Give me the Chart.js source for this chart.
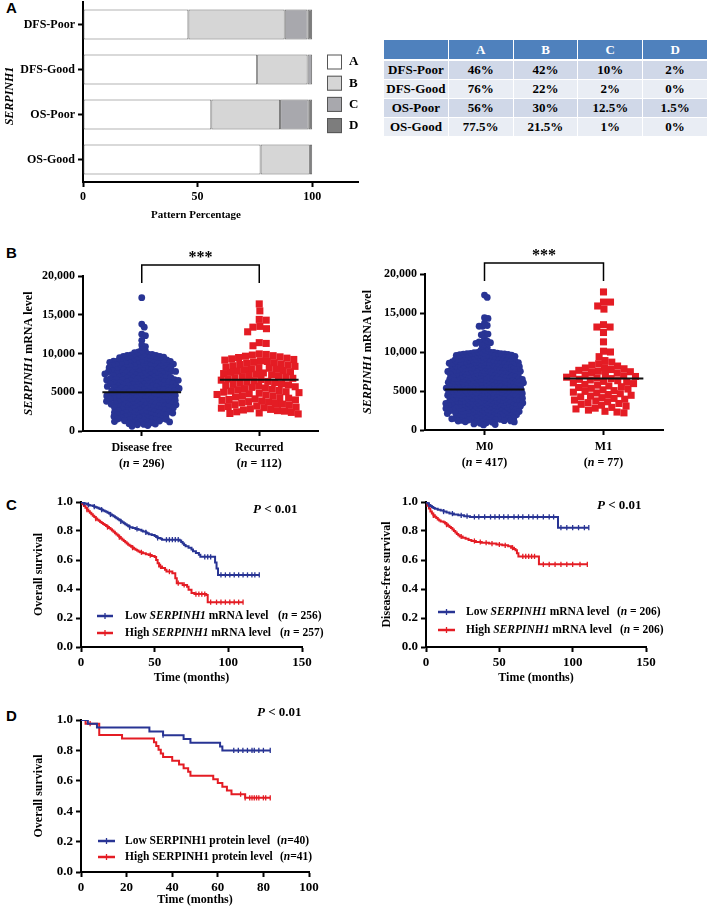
<!DOCTYPE html>
<html>
<head>
<meta charset="utf-8">
<script src="https://cdn.jsdelivr.net/npm/chart.js@4"></script>
<style>
  body { margin: 0; background: #fff; width: 709px; height: 907px; position: relative; overflow: hidden; }
  canvas { position: absolute; }
  .lab { position: absolute; font: bold 15px "Liberation Sans", Arial, sans-serif; line-height: 15px; }
  table { position: absolute; left: 383px; top: 39px; width: 325px; border-collapse: collapse; table-layout: fixed;
          font: bold 13px "Liberation Serif", serif; text-align: center; }
  th, td { border: 1px solid #fff; height: 18px; padding: 0; }
  th { background: #4f81bd; color: #fff; height: 19px; border-bottom: 2px solid #fff; }
  tr:nth-child(even) td { background: #d0d8e8; }
  tr:nth-child(odd) td { background: #e9edf4; }
</style>
</head>
<body>
<div class="lab" style="left:6px;top:0px">A</div>
<div class="lab" style="left:6px;top:245px">B</div>
<div class="lab" style="left:6px;top:497px">C</div>
<div class="lab" style="left:6px;top:708px">D</div>
<script>
// ---- panel A: pattern percentages
const groupsA = ['DFS-Poor', 'DFS-Good', 'OS-Poor', 'OS-Good'];
const patternNames = ['A', 'B', 'C', 'D'];
const patA = [46, 76, 56, 77.5];
const patB = [42, 22, 30, 21.5];
const patC = [10, 2, 12.5, 1];
const patD = [2, 0, 1.5, 0];

// ---- panel B: SERPINH1 mRNA level per patient
const dfValues = [17200,13800,13400,12500,12300,11700,11100,10900,10500,10300,10200,10100,
  9980,9910,9870,9820,9760,9740,9690,9630,9610,9570,9520,9480,9460,9410,9350,9330,9290,9240,9210,9170,9140,9090,9060,9040,9010,9000,
  8970,8930,8910,8860,8840,8800,8770,8750,8700,8680,8640,8610,8590,8550,8520,8480,8460,8420,8390,8350,8330,8290,8260,8230,8190,8160,8120,8090,8050,8020,
  7980,7950,7920,7890,7870,7840,7810,7780,7740,7720,7690,7660,7630,7600,7570,7540,7510,7480,7450,7420,7390,7360,7330,7300,7270,7240,7210,7180,7150,7110,7070,7030,
  6990,6960,6940,6910,6880,6850,6820,6800,6770,6740,6710,6680,6650,6620,6590,6560,6540,6510,6480,6450,6420,6390,6360,6330,6300,6270,6240,6210,6180,6150,6110,6070,6030,
  5990,5960,5940,5910,5890,5860,5830,5800,5780,5750,5720,5690,5660,5640,5610,5580,5550,5520,5490,5460,5430,5400,5370,5340,5310,5280,5250,5220,5190,5160,5130,5100,5060,5020,
  4990,4960,4930,4900,4880,4850,4820,4790,4760,4730,4700,4670,4640,4610,4580,4550,4520,4490,4460,4430,4400,4370,4340,4310,4280,4250,4220,4190,4160,4130,4100,4070,4040,4010,
  3980,3950,3920,3890,3860,3830,3800,3770,3740,3710,3680,3650,3620,3590,3560,3530,3500,3470,3440,3410,3380,3350,3320,3290,3260,3230,3200,3170,3140,3110,3080,3050,3020,
  2980,2950,2910,2880,2850,2810,2780,2750,2710,2680,2640,2610,2580,2540,2510,2480,2440,2410,2370,2340,2310,2270,2240,2200,2170,2140,2100,2070,2040,2010,
  1980,1940,1900,1870,1830,1790,1760,1720,1680,1650,1610,1570,1540,1500,1460,1430,1390,1350,1320,1280,1240,1210,1170,1130,1090,1040,
  950,900,850,800,700,600];
const recValues = [16400,15500,14400,14300,13500,13400,13200,12800,11400,11300,11000,
  9950,9880,9800,9720,9650,9570,9480,9400,9310,9230,9150,9060,
  8970,8890,8820,8740,8660,8580,8500,8420,8340,8260,8180,8100,8030,
  7960,7880,7800,7730,7650,7570,7490,7410,7330,7250,7170,7090,7020,
  6950,6880,6800,6720,6640,6560,6480,6400,6320,6240,6160,6080,6010,
  5950,5870,5790,5710,5630,5550,5470,5390,5310,5230,5150,5070,5010,
  4950,4870,4790,4710,4630,4550,4470,4390,4310,4230,4150,4070,4010,
  3950,3870,3790,3710,3630,3550,3470,3390,3310,3230,3150,3070,3010,
  2950,2870,2790,2710,2630,2560,2480,2400,2330,2260,2200];
const m0Values = [17300,17000,14400,14300,13700,13400,13300,13300,12400,12300,12200,11700,11400,11300,11300,11200,11100,11000,10800,10600,10400,10200,10100,
  9990,9960,9940,9910,9880,9860,9830,9800,9780,9750,9730,9700,9670,9650,9620,9590,9570,9540,9520,9490,9460,9440,9410,9380,9360,9330,9310,9280,9250,9230,9200,9170,9150,9120,9100,9070,9040,9010,
  8990,8970,8940,8920,8900,8870,8850,8830,8800,8780,8760,8730,8710,8690,8660,8640,8620,8590,8570,8550,8520,8500,8470,8450,8430,8400,8380,8360,8330,8310,8290,8260,8240,8220,8190,8170,8150,8120,8100,8070,8050,8020,
  7990,7970,7950,7920,7900,7880,7860,7830,7810,7790,7770,7740,7720,7700,7680,7650,7630,7610,7590,7560,7540,7520,7500,7470,7450,7430,7410,7380,7360,7340,7320,7290,7270,7250,7230,7200,7180,7160,7140,7110,7090,7070,7040,7020,
  6990,6970,6950,6930,6900,6880,6860,6840,6820,6790,6770,6750,6730,6710,6680,6660,6640,6620,6600,6570,6550,6530,6510,6490,6460,6440,6420,6400,6380,6350,6330,6310,6290,6270,6240,6220,6200,6180,6160,6130,6110,6090,6070,6050,6020,
  5990,5970,5950,5930,5910,5880,5860,5840,5820,5800,5780,5760,5730,5710,5690,5670,5650,5630,5610,5580,5560,5540,5520,5500,5480,5460,5430,5410,5390,5370,5350,5330,5310,5280,5260,5240,5220,5200,5180,5160,5130,5110,5090,5070,5050,5020,
  4990,4970,4950,4930,4910,4880,4860,4840,4820,4800,4780,4760,4730,4710,4690,4670,4650,4630,4610,4580,4560,4540,4520,4500,4480,4460,4430,4410,4390,4370,4350,4330,4310,4280,4260,4240,4220,4200,4180,4160,4130,4110,4090,4070,4050,4020,
  3990,3970,3950,3930,3910,3880,3860,3840,3820,3800,3780,3760,3730,3710,3690,3670,3650,3630,3610,3580,3560,3540,3520,3500,3480,3460,3430,3410,3390,3370,3350,3330,3310,3280,3260,3240,3220,3200,3180,3160,3130,3110,3090,3070,3050,3020,
  2990,2970,2950,2920,2900,2880,2860,2830,2810,2790,2770,2740,2720,2700,2680,2650,2630,2610,2590,2560,2540,2520,2500,2470,2450,2430,2410,2380,2360,2340,2320,2290,2270,2250,2230,2200,2180,2160,2140,2110,2090,2070,2040,2020,
  1990,1960,1940,1910,1880,1860,1830,1800,1780,1750,1720,1700,1670,1640,1620,1590,1560,1540,1510,1480,1460,1430,1400,1380,1350,1320,1300,1270,1240,1220,1190,1160,1140,1110,1080,1060,1030,
  980,920,860,780,700,650];
const m1Values = [17700,16400,16400,15900,15500,13500,13200,13200,12500,11300,10100,10000,9400,
  8900,8700,8500,8300,8200,8000,
  7950,7850,7750,7650,7560,7470,7380,7290,7200,7110,7020,
  6950,6860,6770,6680,6590,6500,6410,6320,6230,6140,6050,
  5950,5850,5750,5650,5550,5450,5350,5250,5150,5050,
  4950,4850,4750,4650,4550,4450,4350,4250,4150,4050,
  3950,3840,3730,3620,3510,3400,3290,3180,3070,
  2900,2800,2700,2550,2400,2300,2200];
const recurMeans = [5000, 6600];
const metaMeans = [5200, 6600];
const recurLabels = [['Disease free', '296'], ['Recurred', '112']];
const metaLabels = [['M0', '417'], ['M1', '77']];

// ---- panel C/D: Kaplan-Meier steps (time in months, survival)
const osLowT  = [0,1,2,3,4,5,6,8,9,10,11,12,13,14,15,16,17,18,19,20,21,22,23,24,25,26,27,28,29,30,31,32,33,35,37,39,41,42,44,45,46,48,50,51,52,54,55,67,68,69,70,71,73,75,76,78,80,81,91,92,93,121];
const osLowS  = [1,0.996,0.992,0.988,0.984,0.98,0.976,0.972,0.968,0.964,0.96,0.956,0.952,0.947,0.942,0.937,0.932,0.926,0.92,0.914,0.908,0.902,0.895,0.888,0.881,0.874,0.867,0.86,0.853,0.846,0.839,0.832,0.826,0.82,0.814,0.808,0.802,0.796,0.79,0.784,0.778,0.772,0.765,0.758,0.752,0.746,0.74,0.734,0.724,0.714,0.704,0.694,0.684,0.672,0.66,0.648,0.636,0.622,0.582,0.542,0.497,0.497];
const osHighT = [0,1,2,3,4,5,6,7,8,9,10,11,12,13,14,15,16,17,18,19,20,21,22,23,24,25,26,27,28,29,30,31,32,33,34,35,36,37,38,39,40,42,44,46,48,50,51,52,53,55,57,58,62,64,65,69,72,73,75,77,85,86,110];
const osHighS = [1,0.985,0.972,0.96,0.948,0.936,0.926,0.916,0.906,0.896,0.886,0.878,0.87,0.862,0.855,0.848,0.841,0.834,0.827,0.82,0.812,0.803,0.794,0.785,0.776,0.767,0.758,0.749,0.74,0.731,0.722,0.714,0.706,0.699,0.692,0.685,0.678,0.671,0.665,0.659,0.653,0.646,0.64,0.634,0.628,0.621,0.6,0.578,0.556,0.545,0.532,0.52,0.508,0.475,0.44,0.428,0.416,0.395,0.372,0.365,0.358,0.309,0.309];
const osLowCens  = [2,5,9,14,20,27,33,38,44,52,58,60,62,64,66,84,86,88,95,98,101,104,107,110,113,116,118,121];
const osHighCens = [4,10,18,26,35,41,47,54,60,66,70,78,80,82,84,88,92,95,98,101,104,107,110];

const dfsLowT  = [0,1,2,3,4,5,6,8,10,12,14,16,19,22,26,30,90,111];
const dfsLowS  = [1,0.99,0.98,0.972,0.965,0.959,0.953,0.947,0.941,0.934,0.927,0.92,0.914,0.908,0.902,0.897,0.823,0.823];
const dfsHighT = [0,1,2,3,4,5,6,7,8,9,10,12,13,14,15,16,17,18,19,20,21,22,23,25,27,29,31,34,38,43,48,52,56,58,60,61,62,63,77,110];
const dfsHighS = [1,0.975,0.955,0.935,0.92,0.908,0.898,0.889,0.88,0.872,0.866,0.86,0.852,0.844,0.836,0.828,0.82,0.81,0.8,0.79,0.78,0.771,0.762,0.754,0.746,0.738,0.731,0.724,0.719,0.713,0.707,0.701,0.694,0.685,0.676,0.667,0.646,0.625,0.57,0.57];
const dfsLowCens  = [2,12,18,24,28,33,36,40,44,47,50,53,56,60,63,66,70,73,76,80,84,87,92,96,100,104,108,111];
const dfsHighCens = [5,14,24,33,37,41,45,50,54,59,66,68,70,72,74,80,84,88,92,96,100,105,110];

const protLowT  = [0,3,7,30,36,45,48,61,62,83];
const protLowS  = [1,0.975,0.95,0.925,0.9,0.875,0.85,0.825,0.8,0.8];
const protHighT = [0,2,8,18,32,33,34,35,36,40,43,45,47,48,58,60,62,64,66,72,83];
const protHighS = [1,0.976,0.902,0.878,0.854,0.829,0.805,0.78,0.756,0.732,0.707,0.683,0.659,0.634,0.61,0.585,0.561,0.537,0.512,0.488,0.488];
const protLowCens  = [36,67,69,71,73,75,76,78,80,83];
const protHighCens = [4,70,72,74,75,76,77,78,80,81,83];

// ---- styling
const SERIF = '"Liberation Serif", "Times New Roman", serif';
const BLUE = 'rgb(40,52,148)';
const RED = 'rgb(228,28,36)';
const patColors = ['#ffffff', '#d6d6d6', '#a8a8ad', '#7d7d7d'];

Chart.defaults.font.family = SERIF;
Chart.defaults.font.weight = 'bold';
Chart.defaults.color = '#000';
Chart.defaults.animation = false;
Chart.defaults.plugins.legend.display = false;
Chart.defaults.plugins.tooltip.enabled = false;

function font(size, italic) {
  return (italic ? 'italic ' : '') + 'bold ' + size + 'px ' + SERIF;
}

// text made of plain and italic pieces
function rich(ctx, parts, x, y, size, align) {
  ctx.save();
  ctx.textBaseline = 'middle';
  ctx.textAlign = 'left';
  ctx.fillStyle = '#000';
  let w = 0;
  parts.forEach(p => { ctx.font = font(size, p[1]); w += ctx.measureText(p[0]).width; });
  let cx = align === 'center' ? x - w / 2 : align === 'right' ? x - w : x;
  parts.forEach(p => {
    ctx.font = font(size, p[1]);
    ctx.fillText(p[0], cx, y);
    cx += ctx.measureText(p[0]).width;
  });
  ctx.restore();
}

function richV(ctx, parts, x, y, size) {
  ctx.save();
  ctx.translate(x, y);
  ctx.rotate(-Math.PI / 2);
  rich(ctx, parts, 0, 0, size, 'center');
  ctx.restore();
}

function makeCanvas(box) {
  const c = document.createElement('canvas');
  c.width = box.w;
  c.height = box.h;
  c.style.left = box.left + 'px';
  c.style.top = box.top + 'px';
  document.body.appendChild(c);
  return c;
}

function pad(box, area) {
  return { left: 0, top: area.t - box.top, right: box.left + box.w - area.r, bottom: 0 };
}

function scaleOpts(isY, fixed, tickSize, more) {
  const ticks = Object.assign({ color: '#000', padding: 3, font: { family: SERIF, weight: 'bold', size: tickSize } }, more.ticks || {});
  return Object.assign({
    border: { display: true, color: '#000', width: 2 },
    grid: { display: true, drawOnChartArea: false, drawTicks: true, tickLength: 5, tickWidth: 2, tickColor: '#000', offset: false },
    afterFit: s => { if (isY) s.width = fixed; else s.height = fixed; }
  }, more, { ticks: ticks });
}

// ================= Panel A =================
(function () {
  const box = { left: 0, top: -10, w: 370, h: 235 };
  const area = { l: 83, t: 2, r: 358, b: 182 };
  const cv = makeCanvas(box);
  const values = [patA, patB, patC, patD];
  new Chart(cv, {
    type: 'bar',
    data: {
      labels: groupsA,
      datasets: patternNames.map((n, i) => ({
        label: n,
        data: values[i],
        backgroundColor: patColors[i],
        borderColor: '#6a6a6a',
        borderWidth: 1,
        borderSkipped: false,
        barPercentage: 0.67,
        categoryPercentage: 1
      }))
    },
    options: {
      responsive: false,
      indexAxis: 'y',
      layout: { padding: pad(box, area) },
      scales: {
        x: scaleOpts(false, box.top + box.h - area.b, 12, { stacked: true, min: 0, max: 120, ticks: { stepSize: 50, includeBounds: false } }),
        y: scaleOpts(true, area.l - box.left, 12, { stacked: true })
      }
    },
    plugins: [{
      id: 'decoA',
      afterDraw(ch) {
        const ctx = ch.ctx;
        rich(ctx, [['Pattern Percentage', false]], 196, 225, 11, 'center');
        richV(ctx, [['SERPINH1', true]], 10, 106, 12);
        ch.data.datasets.forEach((ds, i) => {
          const y = 72 + i * 21.2;
          ctx.save();
          ctx.fillStyle = ds.backgroundColor;
          ctx.fillRect(327, y - 7.5, 15, 15);
          ctx.strokeStyle = '#555';
          ctx.lineWidth = 1;
          ctx.strokeRect(327.5, y - 7, 14, 14);
          ctx.restore();
          rich(ctx, [[ds.label, false]], 349, y, 13, 'left');
        });
      }
    }]
  });
})();

// table of panel A
(function () {
  const tbl = document.createElement('table');
  const cols = [patA, patB, patC, patD];
  let html = '<tr><th></th>' + patternNames.map(n => '<th>' + n + '</th>').join('') + '</tr>';
  groupsA.forEach((g, i) => {
    html += '<tr><td>' + g + '</td>' + cols.map(c => '<td>' + c[i] + '%</td>').join('') + '</tr>';
  });
  tbl.innerHTML = html;
  document.body.appendChild(tbl);
})();

// ================= Panel B =================
function swarm(values, cat, ch, d) {
  const xs = ch.scales.x, ys = ch.scales.y;
  const cx = xs.getPixelForValue(cat);
  const pts = values.map(v => ({ v: v, py: ys.getPixelForValue(v), ox: 0 }));
  pts.sort((a, b) => a.py - b.py);
  const placed = [];
  pts.forEach(p => {
    const near = placed.filter(q => Math.abs(q.py - p.py) < d);
    const cands = [0];
    near.forEach(q => {
      const dx = Math.sqrt(d * d - (q.py - p.py) ** 2);
      cands.push(q.ox + dx, q.ox - dx);
    });
    cands.sort((a, b) => Math.abs(a) - Math.abs(b));
    for (const c of cands) {
      if (near.every(q => (q.ox - c) ** 2 + (q.py - p.py) ** 2 >= d * d - 0.01)) { p.ox = c; break; }
    }
    placed.push(p);
  });
  return placed.map(p => ({ x: xs.getValueForPixel(cx + p.ox), y: p.v }));
}

function dotPlot(box, area, groups, means, labels, spacing) {
  const cv = makeCanvas(box);
  const half = 0.67;
  const ch = new Chart(cv, {
    type: 'scatter',
    data: {
      datasets: [
        { type: 'line', data: [{ x: 1 - half, y: means[0] }, { x: 1 + half, y: means[0] }], showLine: true, borderColor: '#111', borderWidth: 2, pointRadius: 0 },
        { type: 'line', data: [{ x: 3 - half, y: means[1] }, { x: 3 + half, y: means[1] }], showLine: true, borderColor: '#111', borderWidth: 2, pointRadius: 0 },
        { data: [], pointStyle: 'circle', pointRadius: 3.4, backgroundColor: BLUE, pointBackgroundColor: BLUE, pointBorderWidth: 0, borderWidth: 0 },
        { data: [], pointStyle: 'rect', pointRadius: 5, backgroundColor: RED, pointBackgroundColor: RED, pointBorderWidth: 0, borderWidth: 0 }
      ]
    },
    options: {
      responsive: false,
      layout: { padding: pad(box, area) },
      scales: {
        x: scaleOpts(false, box.top + box.h - area.b, 12, {
          type: 'linear', min: 0, max: 4,
          afterBuildTicks: s => { s.ticks = [{ value: 1 }, { value: 3 }]; },
          ticks: { callback: () => '' }
        }),
        y: scaleOpts(true, area.l - box.left, 12, {
          min: 0, max: 20000,
          ticks: { stepSize: 5000, callback: v => v >= 10000 ? v.toLocaleString('en-US') : String(v) }
        })
      }
    },
    plugins: [{
      id: 'decoB',
      afterDraw(c) {
        const ctx = c.ctx, a = c.chartArea, xs = c.scales.x;
        const x1 = xs.getPixelForValue(1), x3 = xs.getPixelForValue(3);
        ctx.save();
        ctx.strokeStyle = '#000';
        ctx.lineWidth = 1.5;
        ctx.beginPath();
        ctx.moveTo(x1, a.top + 7);
        ctx.lineTo(x1, a.top - 11);
        ctx.lineTo(x3, a.top - 11);
        ctx.lineTo(x3, a.top + 7);
        ctx.stroke();
        ctx.fillStyle = '#000';
        ctx.font = font(16, false);
        ctx.textAlign = 'center';
        ctx.textBaseline = 'alphabetic';
        ctx.fillText('***', (x1 + x3) / 2, a.top - 14);
        ctx.restore();
        [x1, x3].forEach((x, i) => {
          rich(ctx, [[labels[i][0], false]], x, a.bottom + 16.5, 12, 'center');
          rich(ctx, [['(', false], ['n', true], [' = ' + labels[i][1] + ')', false]], x, a.bottom + 32.5, 12, 'center');
        });
        richV(ctx, [['SERPINH1', true], [' mRNA level', false]], spacing.titleX, (a.top + a.bottom) / 2, 12);
      }
    }]
  });
  ch.data.datasets[2].data = swarm(groups[0], 1, ch, spacing.d0);
  ch.data.datasets[3].data = swarm(groups[1], 3, ch, spacing.d1);
  ch.update('none');
}

dotPlot({ left: 0, top: 230, w: 355, h: 245 }, { l: 83, t: 276, r: 318, b: 431 },
  [dfValues, recValues], recurMeans, recurLabels, { d0: 4.0, d1: 7.0, titleX: 29 });
dotPlot({ left: 355, top: 230, w: 354, h: 245 }, { l: 425, t: 274, r: 663, b: 430 },
  [m0Values, m1Values], metaMeans, metaLabels, { d0: 3.6, d1: 7.0, titleX: 13 });

// ================= Panels C and D =================
function survAt(T, S, t) {
  let s = S[0];
  for (let i = 0; i < T.length; i++) if (T[i] <= t) s = S[i];
  return s;
}

function kmChart(box, area, xMax, xStep, curves, deco) {
  const cv = makeCanvas(box);
  const datasets = [];
  curves.forEach(c => {
    datasets.push({
      data: c.t.map((t, i) => ({ x: t, y: c.s[i] })),
      stepped: 'before', borderColor: c.color, borderWidth: 2, pointRadius: 0, fill: false
    });
    datasets.push({
      data: c.cens.map(t => ({ x: t, y: survAt(c.t, c.s, t) })),
      showLine: false, pointStyle: 'line', pointRotation: 90, pointRadius: 2.6,
      pointBorderColor: c.color, borderColor: c.color, pointBorderWidth: 1.3
    });
  });
  new Chart(cv, {
    type: 'line',
    data: { datasets: datasets },
    options: {
      responsive: false,
      layout: { padding: pad(box, area) },
      scales: {
        x: scaleOpts(false, box.top + box.h - area.b, 13, { type: 'linear', min: 0, max: xMax, ticks: { stepSize: xStep, includeBounds: false } }),
        y: scaleOpts(true, area.l - box.left, 13, { min: 0, max: 1, ticks: { stepSize: 0.2, callback: v => v.toFixed(1) } })
      }
    },
    plugins: [{ id: 'decoKM', afterDraw: ch => deco(ch.ctx, ch) }]
  });
}

function kmLegend(ctx, rows, x0, x1, tx) {
  rows.forEach(r => {
    ctx.save();
    ctx.strokeStyle = r.color;
    ctx.lineWidth = 2.5;
    ctx.beginPath();
    ctx.moveTo(x0, r.y);
    ctx.lineTo(x1, r.y);
    ctx.stroke();
    ctx.lineWidth = 1.3;
    ctx.beginPath();
    ctx.moveTo((x0 + x1) / 2, r.y - 3);
    ctx.lineTo((x0 + x1) / 2, r.y + 3);
    ctx.stroke();
    ctx.restore();
    rich(ctx, r.label, tx, r.y, 11.5, 'left');
    rich(ctx, r.n, r.nx, r.y, 11.5, 'left');
  });
}

const nText = (v, sp) => [['(', false], ['n', true], [sp + '=' + sp + v + ')', false]];
const mrnaLow = [['Low ', false], ['SERPINH1', true], [' mRNA level', false]];
const mrnaHigh = [['High ', false], ['SERPINH1', true], [' mRNA level', false]];
const pText = [['P', true], [' < 0.01', false]];

kmChart({ left: 0, top: 480, w: 355, h: 205 }, { l: 81, t: 502, r: 302, b: 647 }, 150, 50,
  [{ t: osLowT, s: osLowS, cens: osLowCens, color: BLUE }, { t: osHighT, s: osHighS, cens: osHighCens, color: RED }],
  (ctx, ch) => {
    const a = ch.chartArea;
    richV(ctx, [['Overall survival', false]], 39, (a.top + a.bottom) / 2, 12);
    rich(ctx, [['Time (months)', false]], (a.left + a.right) / 2, a.bottom + 31, 12, 'center');
    rich(ctx, pText, 253, 30, 13, 'left');
    kmLegend(ctx, [
      { y: 136, color: BLUE, label: mrnaLow, n: nText(256, ' '), nx: 278 },
      { y: 153, color: RED, label: mrnaHigh, n: nText(257, ' '), nx: 280 }
    ], 97, 113, 125);
  });

kmChart({ left: 355, top: 480, w: 354, h: 205 }, { l: 426, t: 502, r: 646, b: 647 }, 150, 50,
  [{ t: dfsLowT, s: dfsLowS, cens: dfsLowCens, color: BLUE }, { t: dfsHighT, s: dfsHighS, cens: dfsHighCens, color: RED }],
  (ctx, ch) => {
    const a = ch.chartArea;
    richV(ctx, [['Disease-free survival', false]], 32, (a.top + a.bottom) / 2, 12);
    rich(ctx, [['Time (months)', false]], (a.left + a.right) / 2, a.bottom + 31, 12, 'center');
    rich(ctx, pText, 242, 26, 13, 'left');
    kmLegend(ctx, [
      { y: 132, color: BLUE, label: mrnaLow, n: nText(206, ' '), nx: 262 },
      { y: 150, color: RED, label: mrnaHigh, n: nText(206, ' '), nx: 265 }
    ], 83, 100, 111);
  });

kmChart({ left: 0, top: 690, w: 355, h: 217 }, { l: 81, t: 720, r: 309, b: 872 }, 100, 20,
  [{ t: protLowT, s: protLowS, cens: protLowCens, color: BLUE }, { t: protHighT, s: protHighS, cens: protHighCens, color: RED }],
  (ctx, ch) => {
    const a = ch.chartArea;
    richV(ctx, [['Overall survival', false]], 39, (a.top + a.bottom) / 2, 12);
    rich(ctx, [['Time (months)', false]], (a.left + a.right) / 2, a.bottom + 28, 12, 'center');
    rich(ctx, pText, 257, 23, 13, 'left');
    kmLegend(ctx, [
      { y: 151, color: BLUE, label: [['Low SERPINH1 protein level', false]], n: nText(40, ''), nx: 277 },
      { y: 167, color: RED, label: [['High SERPINH1 protein level', false]], n: nText(41, ''), nx: 280 }
    ], 98, 115, 125);
  });
</script>
</body>
</html>
